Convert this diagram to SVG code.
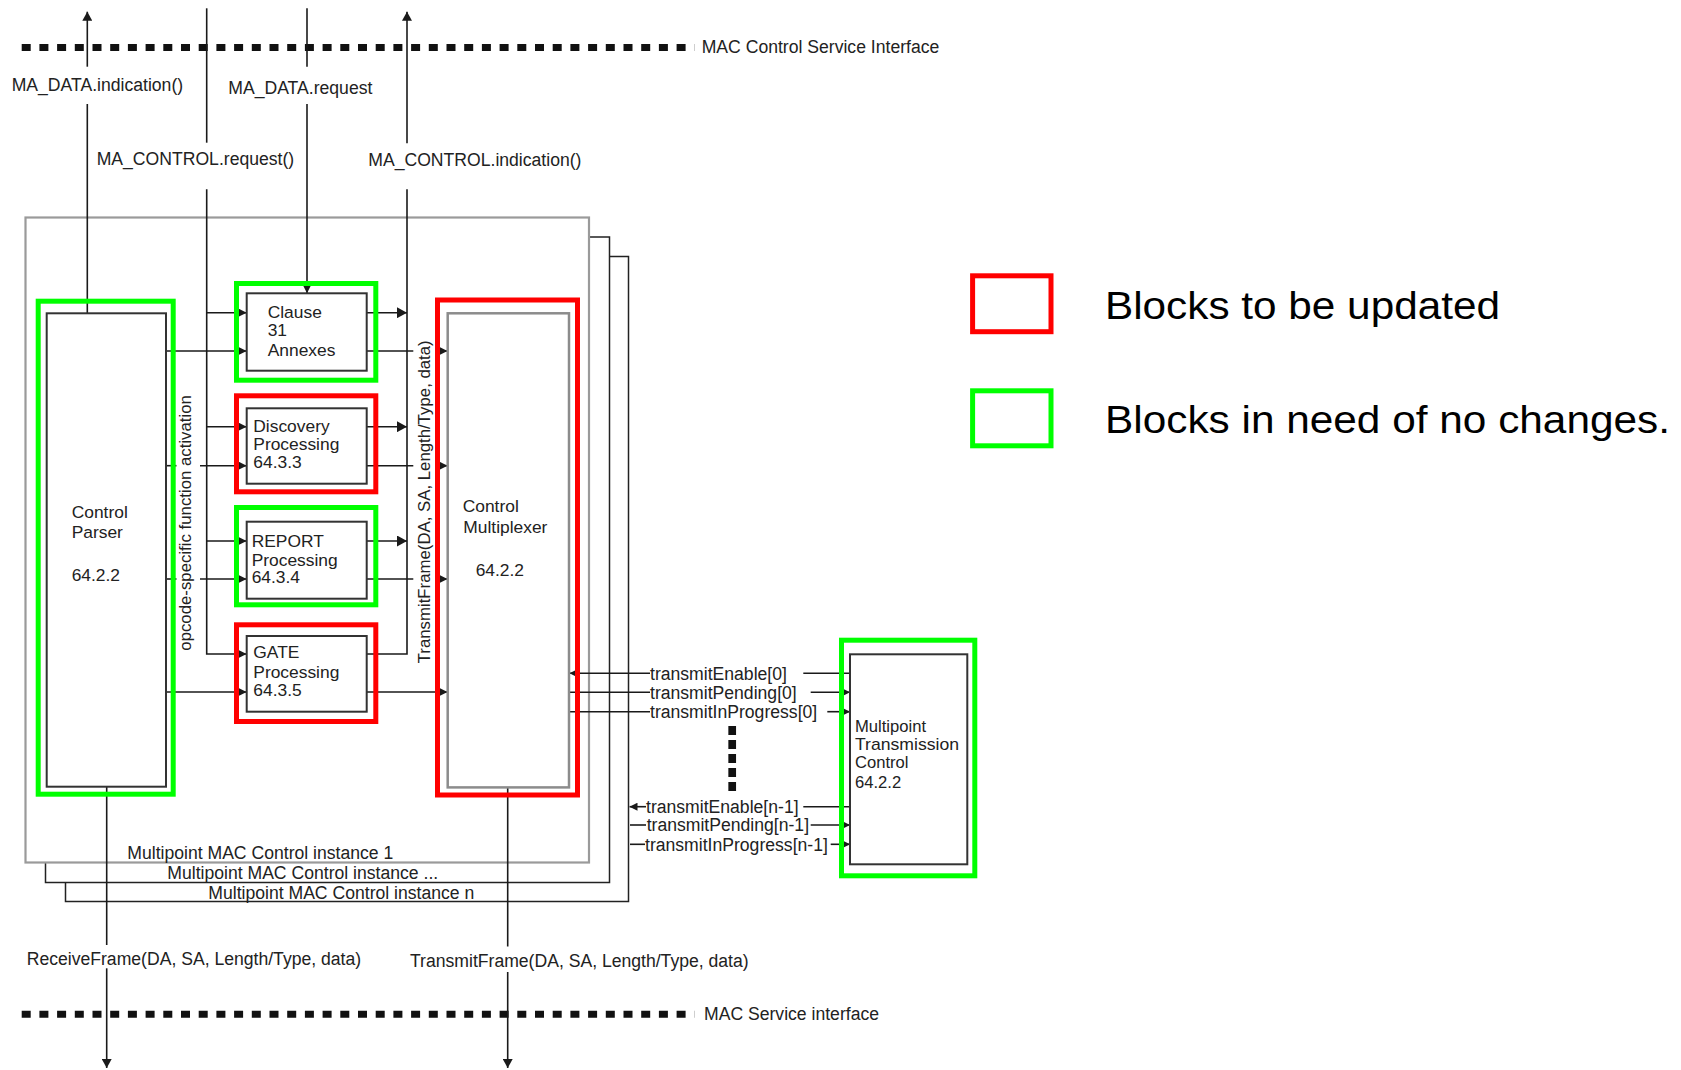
<svg xmlns="http://www.w3.org/2000/svg" width="1681" height="1070" viewBox="0 0 1681 1070">
<style>
.ln{stroke:#1a1a1a;stroke-width:1.6;fill:none}
.box{fill:none;stroke:#333;stroke-width:2}
.muxbox{fill:none;stroke:#8c8c8c;stroke-width:2.5}
.g{fill:none;stroke:#00ff00;stroke-width:5}
.r{fill:none;stroke:#ff0000;stroke-width:5}
.t{font-family:"Liberation Sans",Arial,sans-serif;font-size:17.6px;fill:#222}
.tb{font-family:"Liberation Sans",Arial,sans-serif;font-size:17.4px;fill:#222}
.tm{font-family:"Liberation Sans",Arial,sans-serif;font-size:16.6px;fill:#222}
.tr{font-family:"Liberation Sans",Arial,sans-serif;font-size:16.8px;fill:#222}
.lg{font-family:"Liberation Sans",Arial,sans-serif;font-size:38px;fill:#000}
.dash{stroke:#111;stroke-width:7;stroke-dasharray:9 8.7;fill:none}
.vdash{stroke:#111;stroke-width:7.7;stroke-dasharray:9 5;fill:none}
</style>
<defs>
<marker id="aS" viewBox="0 0 8 8" refX="8" refY="4" markerWidth="8" markerHeight="8" markerUnits="userSpaceOnUse" orient="auto"><path d="M0,0L8,4L0,8z" fill="#1a1a1a"/></marker>
<marker id="aL" viewBox="0 0 10 11" refX="10" refY="5.5" markerWidth="10" markerHeight="11" markerUnits="userSpaceOnUse" orient="auto"><path d="M0,0L10,5.5L0,11z" fill="#1a1a1a"/></marker>
<marker id="aM" viewBox="0 0 9 10" refX="9" refY="5" markerWidth="9" markerHeight="10" markerUnits="userSpaceOnUse" orient="auto"><path d="M0,0L9,5L0,10z" fill="#1a1a1a"/></marker>
</defs>
<rect width="1681" height="1070" fill="#fff"/>

<g id="instances">
<rect x="65.5" y="256.5" width="563" height="645" fill="#fff" stroke="#222" stroke-width="1.5"/>
<rect x="45.5" y="237" width="564" height="645.5" fill="#fff" stroke="#222" stroke-width="1.5"/>
<rect x="25.5" y="217.5" width="563.5" height="645" fill="#fff" stroke="#9a9a9a" stroke-width="2.2"/>
<text class="t" x="127.3" y="859">Multipoint MAC Control instance 1</text>
<text class="t" x="167.3" y="879">Multipoint MAC Control instance ...</text>
<text class="t" x="208.3" y="898.5">Multipoint MAC Control instance n</text>
</g>

<g id="interfaces">
<line class="dash" x1="21.7" y1="47.5" x2="694.5" y2="47.5"/>
<text class="t" x="701.7" y="53">MAC Control Service Interface</text>
<line class="dash" x1="21.7" y1="1014.3" x2="694.5" y2="1014.3"/>
<text class="t" x="704" y="1020">MAC Service interface</text>
</g>

<g id="connectors">
<line class="ln" x1="87.3" y1="313.3" x2="87.3" y2="104"/>
<line class="ln" x1="87.3" y1="66.7" x2="87.3" y2="11.7" marker-end="url(#aM)"/>
<text class="t" x="11.7" y="91">MA_DATA.indication()</text>
<line class="ln" x1="206.7" y1="8.3" x2="206.7" y2="142.7"/>
<polyline class="ln" points="206.7,189.3 206.7,654 246.7,654" marker-end="url(#aS)"/>
<text class="t" x="96.7" y="165">MA_CONTROL.request()</text>
<line class="ln" x1="206.7" y1="312.7" x2="246.7" y2="312.7" marker-end="url(#aS)"/>
<line class="ln" x1="206.7" y1="426.7" x2="246.7" y2="426.7" marker-end="url(#aS)"/>
<line class="ln" x1="206.7" y1="541" x2="246.7" y2="541" marker-end="url(#aS)"/>
<line class="ln" x1="307" y1="8.3" x2="307" y2="66.7"/>
<line class="ln" x1="307" y1="104" x2="307" y2="293.3" marker-end="url(#aS)"/>
<text class="t" x="228.3" y="93.5">MA_DATA.request</text>
<polyline class="ln" points="366.7,654 407,654 407,189.3"/>
<line class="ln" x1="407" y1="143.3" x2="407" y2="11.7" marker-end="url(#aM)"/>
<text class="t" x="368.3" y="166">MA_CONTROL.indication()</text>
<line class="ln" x1="366.7" y1="312.7" x2="407" y2="312.7" marker-end="url(#aL)"/>
<line class="ln" x1="366.7" y1="426.7" x2="407" y2="426.7" marker-end="url(#aL)"/>
<line class="ln" x1="366.7" y1="541" x2="407" y2="541" marker-end="url(#aL)"/>
<line class="ln" x1="166" y1="351" x2="246.7" y2="351" marker-end="url(#aS)"/>
<line class="ln" x1="166" y1="465.7" x2="176.5" y2="465.7"/>
<line class="ln" x1="200" y1="465.7" x2="246.7" y2="465.7" marker-end="url(#aS)"/>
<line class="ln" x1="166" y1="579" x2="176.5" y2="579"/>
<line class="ln" x1="200" y1="579" x2="246.7" y2="579" marker-end="url(#aS)"/>
<line class="ln" x1="166" y1="692" x2="246.7" y2="692" marker-end="url(#aS)"/>
<text class="tr" transform="translate(190.5,650.7) rotate(-90)">opcode-specific function activation</text>
<line class="ln" x1="366.7" y1="351" x2="413.3" y2="351"/>
<line class="ln" x1="439" y1="351" x2="447.5" y2="351" marker-end="url(#aS)"/>
<line class="ln" x1="366.7" y1="465.7" x2="413.3" y2="465.7"/>
<line class="ln" x1="439" y1="465.7" x2="447.5" y2="465.7" marker-end="url(#aS)"/>
<line class="ln" x1="366.7" y1="579" x2="413.3" y2="579"/>
<line class="ln" x1="439" y1="579" x2="447.5" y2="579" marker-end="url(#aS)"/>
<line class="ln" x1="366.7" y1="692" x2="447.5" y2="692" marker-end="url(#aS)"/>
<text class="tr" transform="translate(430,663.3) rotate(-90)">TransmitFrame(DA, SA, Length/Type, data)</text>
<line class="ln" x1="106.7" y1="786.7" x2="106.7" y2="945"/>
<line class="ln" x1="106.7" y1="968.3" x2="106.7" y2="1068" marker-end="url(#aM)"/>
<text class="t" x="26.7" y="965">ReceiveFrame(DA, SA, Length/Type, data)</text>
<line class="ln" x1="507.7" y1="787.4" x2="507.7" y2="946.5"/>
<line class="ln" x1="507.7" y1="972" x2="507.7" y2="1068" marker-end="url(#aM)"/>
<text class="t" x="410" y="967">TransmitFrame(DA, SA, Length/Type, data)</text>
<line class="ln" x1="650" y1="673.3" x2="569.5" y2="673.3" marker-end="url(#aS)"/>
<line class="ln" x1="803.3" y1="673.3" x2="850" y2="673.3"/>
<text class="t" x="650" y="679.5">transmitEnable[0]</text>
<line class="ln" x1="569" y1="692.3" x2="650" y2="692.3"/>
<line class="ln" x1="810.7" y1="692.3" x2="850" y2="692.3" marker-end="url(#aS)"/>
<text class="t" x="650" y="698.5">transmitPending[0]</text>
<line class="ln" x1="569" y1="711.7" x2="650" y2="711.7"/>
<line class="ln" x1="827.3" y1="711.7" x2="850" y2="711.7" marker-end="url(#aS)"/>
<text class="t" x="650" y="718">transmitInProgress[0]</text>
<line class="vdash" x1="732.2" y1="726" x2="732.2" y2="792.7"/>
<line class="ln" x1="646" y1="806.7" x2="629.5" y2="806.7" marker-end="url(#aS)"/>
<line class="ln" x1="803.3" y1="806.7" x2="850" y2="806.7"/>
<text class="t" x="646" y="813">transmitEnable[n-1]</text>
<line class="ln" x1="630" y1="825" x2="646" y2="825"/>
<line class="ln" x1="810.7" y1="825" x2="850" y2="825" marker-end="url(#aS)"/>
<text class="t" x="646.7" y="831">transmitPending[n-1]</text>
<line class="ln" x1="630" y1="844.3" x2="645" y2="844.3"/>
<line class="ln" x1="830.7" y1="844.3" x2="850" y2="844.3" marker-end="url(#aS)"/>
<text class="t" x="645" y="850.5">transmitInProgress[n-1]</text>
</g>

<g id="control-parser">
<rect class="box" x="46.7" y="313.3" width="119.3" height="473.4"/>
<rect class="g" x="38.2" y="301.2" width="135" height="493"/>
<text class="tb" x="71.7" y="518.3">Control</text>
<text class="tb" x="71.7" y="537.7">Parser</text>
<text class="tb" x="71.7" y="581">64.2.2</text>
</g>

<g id="clause31">
<rect class="box" x="246.7" y="293.3" width="120" height="77.4"/>
<rect class="g" x="236.5" y="283.5" width="139.3" height="96.7"/>
<text class="tb" x="267.7" y="318.3">Clause</text>
<text class="tb" x="267.7" y="336">31</text>
<text class="tb" x="267.7" y="355.7">Annexes</text>
</g>

<g id="discovery">
<rect class="box" x="246.7" y="408.3" width="120" height="75.4"/>
<rect class="r" x="236.5" y="395.8" width="139.3" height="96"/>
<text class="tb" x="253.3" y="432.3">Discovery</text>
<text class="tb" x="253.3" y="450">Processing</text>
<text class="tb" x="253.3" y="467.7">64.3.3</text>
</g>

<g id="report">
<rect class="box" x="246.7" y="521.7" width="120" height="77"/>
<rect class="g" x="236.5" y="507.5" width="139.3" height="97.3"/>
<text class="tb" x="251.7" y="546.7">REPORT</text>
<text class="tb" x="251.7" y="566">Processing</text>
<text class="tb" x="251.7" y="583.3">64.3.4</text>
</g>

<g id="gate">
<rect class="box" x="246.7" y="636" width="120" height="75.7"/>
<rect class="r" x="236.5" y="624.8" width="139.3" height="96.7"/>
<text class="tb" x="253.3" y="658.3">GATE</text>
<text class="tb" x="253.3" y="677.7">Processing</text>
<text class="tb" x="253.3" y="695.7">64.3.5</text>
</g>

<g id="control-multiplexer">
<rect class="muxbox" x="447.7" y="313.3" width="121.3" height="474.1"/>
<rect class="r" x="437.5" y="300" width="140" height="495"/>
<text class="tb" x="462.7" y="512.3">Control</text>
<text class="tb" x="463.3" y="532.6">Multiplexer</text>
<text class="tb" x="475.7" y="575.5">64.2.2</text>
</g>

<g id="multipoint-transmission-control">
<rect class="box" x="850" y="654.3" width="117.3" height="210"/>
<rect class="g" x="841.5" y="640.2" width="133.3" height="235.6"/>
<text class="tm" x="855" y="732">Multipoint</text>
<text class="tm" x="855" y="750" textLength="104" lengthAdjust="spacingAndGlyphs">Transmission</text>
<text class="tm" x="855" y="767.5">Control</text>
<text class="tm" x="855" y="788.3">64.2.2</text>
</g>

<g id="legend">
<rect class="r" x="972.6" y="275.8" width="78.4" height="55.9" stroke-width="5.5"/>
<text class="lg" x="1105" y="319" textLength="395" lengthAdjust="spacingAndGlyphs">Blocks to be updated</text>
<rect class="g" x="972.6" y="390.8" width="78.4" height="55" stroke-width="5.5"/>
<text class="lg" x="1105" y="432.7" textLength="565" lengthAdjust="spacingAndGlyphs">Blocks in need of no changes.</text>
</g>
</svg>
